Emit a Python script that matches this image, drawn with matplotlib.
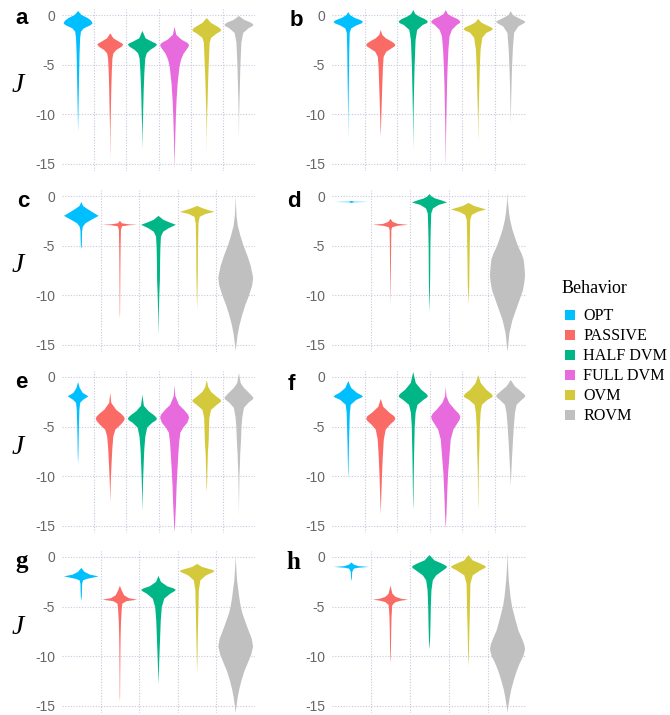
import numpy as np
import matplotlib
matplotlib.use("Agg")
import matplotlib.pyplot as plt
from matplotlib.patches import Rectangle

plt.rcParams["axes.unicode_minus"] = False

BEHAVIORS = ["OPT", "PASSIVE", "HALF DVM", "FULL DVM", "OVM", "ROVM"]
COLORS = ["#00BFFF", "#FA6B66", "#00B586", "#E76BDD", "#D4C93B", "#C0C0C0"]

SIX = ["OPT", "PASSIVE", "HALF DVM", "FULL DVM", "OVM", "ROVM"]
FIVE = ["OPT", "PASSIVE", "HALF DVM", "OVM", "ROVM"]

# Each violin: J levels (top to bottom) and relative half-width at each level
# ---- panel a
a_groups = SIX
a_span = [0.9, 0.8, 0.9, 0.9, 0.9, 0.9]
a_J = [
    [0.4, 0.0, -0.33, -0.55, -0.67, -0.84, -0.95, -1.07, -1.34, -1.68, -2.35, -4.0, -6.5, -8.5, -10.5, -11.8],
    [-1.85, -2.35, -2.7, -2.85, -2.95, -3.05, -3.2, -3.5, -3.85, -4.35, -5.7, -7.5, -9.5, -11.5, -14.5],
    [-1.6, -2.35, -2.7, -2.85, -2.95, -3.05, -3.2, -3.5, -3.85, -4.35, -5.7, -7.5, -9.5, -11.5, -13.5],
    [-1.2, -2.0, -2.5, -2.8, -3.0, -3.2, -3.5, -3.9, -4.5, -5.2, -6.9, -8.5, -10.2, -11.9, -13.6, -15.5],
    [-0.3, -0.8, -1.15, -1.35, -1.5, -1.65, -1.85, -2.3, -2.8, -5.2, -6.9, -8.5, -9.9, -12, -14],
    [-0.1, -0.5, -0.75, -0.9, -1.0, -1.12, -1.3, -1.8, -2.8, -5.2, -6.9, -8.5, -10.2, -12.5],
]
a_w = [
    [0, 0.24, 0.69, 0.88, 0.95, 1.0, 0.93, 0.8, 0.4, 0.2, 0.14, 0.1, 0.065, 0.04, 0.015, 0],
    [0, 0.25, 0.7, 0.9, 1.0, 0.97, 0.88, 0.5, 0.25, 0.17, 0.12, 0.08, 0.05, 0.02, 0],
    [0, 0.22, 0.68, 0.9, 1.0, 0.97, 0.88, 0.55, 0.3, 0.2, 0.14, 0.09, 0.055, 0.02, 0],
    [0, 0.12, 0.5, 0.88, 1.0, 0.96, 0.82, 0.62, 0.45, 0.34, 0.21, 0.14, 0.09, 0.055, 0.025, 0],
    [0, 0.3, 0.72, 0.92, 1.0, 0.95, 0.7, 0.3, 0.2, 0.13, 0.09, 0.06, 0.03, 0.008, 0],
    [0, 0.38, 0.8, 0.95, 1.0, 0.94, 0.7, 0.3, 0.17, 0.1, 0.07, 0.04, 0.015, 0],
]

# ---- panel b
b_groups = SIX
b_span = [0.9] * 6
b_J = [
    [0.3, 0.0, -0.3, -0.5, -0.62, -0.72, -0.85, -1.05, -1.35, -1.8, -3.5, -5.2, -7.9, -9.9, -12.5],
    [-1.5, -2.0, -2.35, -2.65, -2.85, -3.0, -3.15, -3.35, -3.7, -4.2, -5.2, -6.9, -8.5, -10.2, -12.3],
    [0.5, 0.1, -0.15, -0.4, -0.58, -0.7, -0.82, -1.0, -1.5, -2.5, -5.2, -7.9, -10.2, -13.5],
    [0.5, 0.1, -0.15, -0.4, -0.58, -0.7, -0.82, -1.0, -1.5, -2.15, -3.5, -5.2, -6.9, -8.5, -10.2, -12.5, -15.5],
    [-0.4, -0.75, -1.0, -1.25, -1.4, -1.55, -1.8, -2.3, -3.5, -5.2, -6.9, -8.5, -10.2, -12.8],
    [0.4, 0.0, -0.15, -0.45, -0.6, -0.7, -0.82, -1.15, -1.8, -3.5, -5.2, -6.9, -8.5, -11],
]
b_w = [
    [0, 0.12, 0.45, 0.82, 0.96, 1.0, 0.9, 0.55, 0.2, 0.1, 0.07, 0.055, 0.03, 0.012, 0],
    [0, 0.1, 0.35, 0.72, 0.92, 1.0, 0.95, 0.75, 0.38, 0.2, 0.15, 0.11, 0.075, 0.04, 0],
    [0, 0.14, 0.4, 0.78, 0.95, 1.0, 0.93, 0.65, 0.27, 0.16, 0.09, 0.05, 0.02, 0],
    [0, 0.14, 0.42, 0.8, 0.95, 1.0, 0.95, 0.76, 0.42, 0.26, 0.18, 0.13, 0.09, 0.07, 0.045, 0.02, 0],
    [0, 0.2, 0.52, 0.9, 1.0, 0.92, 0.55, 0.28, 0.16, 0.11, 0.08, 0.05, 0.02, 0],
    [0, 0.14, 0.32, 0.72, 0.93, 1.0, 0.92, 0.52, 0.23, 0.14, 0.09, 0.055, 0.03, 0],
]

# ---- panel c
c_groups = FIVE
c_span = [0.9] * 5
c_J = [
    [-0.6, -1.0, -1.25, -1.6, -2.0, -2.4, -2.75, -3.1, -3.5, -5.0, -5.3],
    [-2.5, -2.75, -2.85, -2.9, -2.95, -3.05, -3.4, -5.1, -6.8, -9.1, -11.8, -12.3],
    [-2.0, -2.4, -2.65, -2.9, -3.25, -3.6, -4.1, -5.1, -6.8, -8.5, -9.8, -11.8, -14],
    [-1.0, -1.25, -1.45, -1.6, -1.8, -2.1, -2.75, -5.1, -7.8, -9.8, -11.5],
    [0.0, -1, -2, -3, -4, -5, -6, -7, -8, -8.3, -9, -10, -11, -12, -13, -14, -15, -15.6],
]
c_w = [
    [0, 0.1, 0.3, 0.62, 1.0, 0.58, 0.24, 0.09, 0.05, 0.03, 0],
    [0, 0.12, 0.5, 1.0, 0.5, 0.12, 0.06, 0.04, 0.03, 0.02, 0.01, 0],
    [0, 0.28, 0.62, 1.0, 0.58, 0.27, 0.14, 0.11, 0.09, 0.08, 0.05, 0.02, 0],
    [0, 0.35, 0.7, 1.0, 0.5, 0.15, 0.08, 0.05, 0.04, 0.02, 0],
    [0, 0.02, 0.05, 0.12, 0.27, 0.45, 0.67, 0.86, 0.98, 1.0, 0.95, 0.77, 0.55, 0.37, 0.22, 0.11, 0.04, 0],
]

# ---- panel d
d_groups = FIVE
d_span = [0.9] * 5
d_J = [
    [-0.5, -0.57, -0.6, -0.63, -0.7],
    [-2.3, -2.6, -2.8, -2.9, -3.0, -3.15, -3.4, -5.1, -7.8, -9.5, -11],
    [0.2, -0.05, -0.25, -0.45, -0.65, -0.9, -1.25, -1.75, -3.4, -5.1, -7.8, -9.1, -10.5, -11.7],
    [-0.7, -1.0, -1.2, -1.35, -1.6, -1.9, -2.4, -5.1, -7.8, -9.1, -9.8, -11],
    [0.4, -0.5, -1.75, -2.5, -3.4, -4.2, -5.1, -5.8, -6.4, -7.2, -8.0, -8.7, -9.5, -10.3, -11.1, -12.5, -13.8, -15.2, -15.7],
]
d_w = [
    [0, 0.15, 1.0, 0.15, 0],
    [0, 0.12, 0.4, 1.0, 0.4, 0.1, 0.05, 0.035, 0.02, 0.01, 0],
    [0, 0.12, 0.33, 0.7, 1.0, 0.52, 0.2, 0.1, 0.07, 0.05, 0.04, 0.03, 0.015, 0],
    [0, 0.32, 0.7, 1.0, 0.52, 0.19, 0.1, 0.07, 0.05, 0.04, 0.02, 0],
    [0, 0.02, 0.09, 0.16, 0.28, 0.43, 0.61, 0.8, 0.92, 0.97, 1.0, 0.96, 0.88, 0.72, 0.56, 0.28, 0.11, 0.03, 0],
]

# ---- panel e
e_groups = SIX
e_span = [0.64, 0.9, 0.9, 0.9, 0.9, 0.9]
e_J = [
    [-0.5, -1.1, -1.6, -1.85, -1.95, -2.05, -2.3, -2.6, -3.3, -5.0, -6.6, -7.6, -8.8],
    [-1.6, -2.6, -3.3, -3.7, -4.0, -4.2, -4.4, -4.8, -5.3, -6.0, -7.3, -9.0, -10.6, -11.6, -12.7],
    [-1.8, -2.9, -3.45, -3.8, -4.05, -4.2, -4.35, -4.6, -5.1, -6.0, -7.3, -8.3, -10.0, -11.6, -13.5],
    [-0.8, -1.9, -2.8, -3.3, -3.8, -4.1, -4.6, -5.1, -5.6, -6.5, -7.8, -9.3, -11.0, -12.7, -14.0, -15.0, -15.6],
    [-0.3, -1.0, -1.5, -2.0, -2.25, -2.4, -2.55, -2.8, -3.3, -4.1, -5.0, -6.5, -7.6, -9.3, -11.0, -11.5],
    [0.4, -0.6, -1.1, -1.6, -1.95, -2.1, -2.25, -2.6, -3.1, -4.1, -5.0, -6.5, -7.8, -8.3, -10.0, -12.3, -14],
]
e_w = [
    [0, 0.16, 0.45, 0.85, 1.0, 0.85, 0.48, 0.2, 0.13, 0.08, 0.05, 0.035, 0],
    [0, 0.07, 0.41, 0.75, 0.95, 1.0, 0.95, 0.72, 0.35, 0.21, 0.14, 0.08, 0.035, 0.015, 0],
    [0, 0.1, 0.43, 0.76, 0.95, 1.0, 0.95, 0.68, 0.33, 0.2, 0.13, 0.1, 0.055, 0.025, 0],
    [0, 0.05, 0.3, 0.65, 0.94, 1.0, 0.88, 0.6, 0.4, 0.32, 0.26, 0.2, 0.14, 0.1, 0.06, 0.03, 0],
    [0, 0.1, 0.3, 0.7, 0.93, 1.0, 0.93, 0.7, 0.3, 0.18, 0.16, 0.13, 0.08, 0.045, 0.02, 0],
    [0, 0.12, 0.35, 0.7, 0.93, 1.0, 0.96, 0.65, 0.35, 0.23, 0.18, 0.14, 0.09, 0.08, 0.035, 0.012, 0],
]

# ---- panel f
f_groups = SIX
f_span = [0.9] * 6
f_J = [
    [-0.4, -1.1, -1.6, -1.85, -1.95, -2.05, -2.3, -2.8, -3.6, -5.0, -6.7, -8.35, -9.7, -10.2],
    [-2.2, -3.0, -3.6, -3.95, -4.2, -4.4, -4.8, -5.3, -6.3, -8.0, -9.7, -11.7, -13.1, -13.8],
    [0.5, -0.6, -1.28, -1.7, -1.9, -2.05, -2.3, -2.8, -3.6, -5.0, -7.0, -9.0, -10.7, -12.7, -13.3],
    [-1.0, -1.95, -2.6, -3.3, -3.7, -4.0, -4.3, -4.65, -5.3, -6.3, -8.0, -9.7, -11.7, -13.4, -14.6, -15.3],
    [0.2, -0.6, -1.28, -1.7, -1.9, -2.05, -2.3, -2.8, -3.6, -5.0, -7.0, -8.7, -10.4, -12.7, -13.3],
    [-0.3, -0.95, -1.45, -1.75, -1.9, -2.05, -2.3, -2.8, -3.6, -5.0, -6.7, -8.35, -9.7, -11],
]
f_w = [
    [0, 0.2, 0.6, 0.92, 1.0, 0.93, 0.55, 0.17, 0.11, 0.08, 0.05, 0.03, 0.012, 0],
    [0, 0.17, 0.6, 0.92, 1.0, 0.93, 0.63, 0.34, 0.21, 0.14, 0.09, 0.045, 0.015, 0],
    [0, 0.17, 0.55, 0.9, 1.0, 0.95, 0.7, 0.29, 0.16, 0.1, 0.07, 0.045, 0.03, 0.012, 0],
    [0, 0.05, 0.23, 0.63, 0.9, 1.0, 0.95, 0.8, 0.52, 0.34, 0.25, 0.16, 0.1, 0.06, 0.025, 0],
    [0, 0.17, 0.55, 0.9, 1.0, 0.94, 0.63, 0.25, 0.16, 0.11, 0.08, 0.045, 0.025, 0.01, 0],
    [0, 0.29, 0.7, 0.93, 1.0, 0.95, 0.75, 0.4, 0.29, 0.21, 0.14, 0.08, 0.035, 0],
]

# ---- panel g
g_groups = FIVE
g_span = [0.9] * 5
g_J = [
    [-1.1, -1.5, -1.78, -1.95, -2.2, -2.35, -2.7, -4.0, -4.4],
    [-2.9, -3.35, -3.85, -4.15, -4.3, -4.45, -4.7, -5.35, -6.7, -8.05, -9.4, -11.4, -14.1, -14.5],
    [-1.9, -2.5, -2.95, -3.15, -3.3, -3.45, -3.7, -4.2, -5.05, -6.4, -8.05, -10.1, -11.4, -12.8],
    [-0.7, -1.0, -1.2, -1.32, -1.42, -1.55, -1.85, -2.35, -3.35, -5.7, -8.05, -10.1, -11.7],
    [0.1, -1.0, -2.35, -4.0, -5.0, -5.7, -6.5, -7.4, -8.2, -9.0, -9.8, -10.7, -11.5, -12.4, -13.3, -14.1, -15.1, -15.7],
]
g_w = [
    [0, 0.19, 0.5, 1.0, 0.33, 0.1, 0.05, 0.03, 0],
    [0, 0.1, 0.24, 0.52, 1.0, 0.38, 0.14, 0.1, 0.06, 0.04, 0.03, 0.02, 0.01, 0],
    [0, 0.14, 0.5, 0.85, 1.0, 0.92, 0.67, 0.33, 0.19, 0.13, 0.095, 0.05, 0.025, 0],
    [0, 0.28, 0.68, 0.92, 1.0, 0.9, 0.51, 0.19, 0.1, 0.07, 0.04, 0.02, 0],
    [0, 0.03, 0.08, 0.2, 0.29, 0.39, 0.55, 0.74, 0.92, 1.0, 0.9, 0.69, 0.5, 0.34, 0.21, 0.12, 0.04, 0],
]

# ---- panel h
h_groups = FIVE
h_span = [0.9] * 5
h_J = [
    [-0.55, -0.77, -0.92, -1.0, -1.08, -1.17, -1.5, -2.2, -2.4],
    [-2.9, -3.7, -4.0, -4.2, -4.3, -4.4, -4.55, -4.85, -6.0, -7.4, -8.7, -10.1, -10.7],
    [0.2, -0.34, -0.67, -0.88, -1.0, -1.12, -1.34, -1.85, -2.35, -3.35, -5.0, -6.7, -8.05, -8.9, -9.3],
    [0.2, -0.34, -0.67, -0.88, -1.0, -1.12, -1.34, -1.85, -2.7, -4.0, -5.7, -7.4, -9.1, -10.4, -11],
    [0.5, -1.0, -2.35, -4.0, -5.0, -5.7, -6.5, -7.4, -8.2, -8.8, -9.3, -10.0, -10.7, -11.5, -12.4, -13.3, -14.1, -15.1, -15.7],
]
h_w = [
    [0, 0.14, 0.4, 1.0, 0.4, 0.14, 0.04, 0.02, 0],
    [0, 0.11, 0.28, 0.6, 1.0, 0.6, 0.28, 0.1, 0.06, 0.04, 0.03, 0.015, 0],
    [0, 0.28, 0.72, 0.94, 1.0, 0.95, 0.78, 0.38, 0.19, 0.11, 0.075, 0.057, 0.038, 0.015, 0],
    [0, 0.24, 0.68, 0.93, 1.0, 0.93, 0.68, 0.24, 0.11, 0.095, 0.075, 0.05, 0.03, 0.012, 0],
    [0, 0.03, 0.075, 0.17, 0.26, 0.36, 0.48, 0.62, 0.82, 0.95, 1.0, 0.9, 0.7, 0.52, 0.36, 0.22, 0.13, 0.04, 0],
]

Y_TICKS = [0, -5, -10, -15]

PANELS = [
    ("a", a_groups, a_J, a_w, a_span),
    ("b", b_groups, b_J, b_w, b_span),
    ("c", c_groups, c_J, c_w, c_span),
    ("d", d_groups, d_J, d_w, d_span),
    ("e", e_groups, e_J, e_w, e_span),
    ("f", f_groups, f_J, f_w, f_span),
    ("g", g_groups, g_J, g_w, g_span),
    ("h", h_groups, h_J, h_w, h_span),
]

# ---- layout (pixels)
W, H = 670, 715
fig = plt.figure(figsize=(W / 100, H / 100), dpi=100)
fig.patch.set_facecolor("white")

YLIM = (-15.7, 0.6)
PX_PER_UNIT = 9.93
ZERO_Y = [15, 196, 377, 557]
COL_X = [(62, 255), (332, 527)]
LETTER_POS = {"a": (15, 23.5), "b": (290, 26), "c": (17, 207), "d": (287, 207),
              "e": (15, 388.5), "f": (288, 390.5), "g": (15, 568), "h": (286, 569)}

GRID_KW = dict(color="#c8c8dc", linestyle=(0, (1, 1.5)), linewidth=0.8)

for idx, (letter, groups, Js, ws, spans) in enumerate(PANELS):
    row, col = divmod(idx, 2)
    x0, x1 = COL_X[col]
    top = ZERO_Y[row] - YLIM[1] * PX_PER_UNIT
    bottom = ZERO_Y[row] - YLIM[0] * PX_PER_UNIT
    ax = fig.add_axes([x0 / W, 1 - bottom / H, (x1 - x0) / W, (bottom - top) / H])

    n = len(groups)
    stats = []
    for J, w in zip(Js, ws):
        J = np.asarray(J, dtype=float)
        w = np.asarray(w, dtype=float)
        mode = J[np.argmax(w)]
        stats.append(dict(coords=J, vals=w, mean=mode, median=mode,
                          min=J.min(), max=J.max()))
    parts = ax.violin(stats, positions=np.arange(1, n + 1), widths=spans,
                      showmeans=False, showextrema=False, showmedians=False)
    for body, g in zip(parts["bodies"], groups):
        body.set_facecolor(COLORS[BEHAVIORS.index(g)])
        body.set_edgecolor("none")
        body.set_linewidth(0)
        body.set_alpha(1)

    ax.set_xlim(0.5, n + 0.5)
    ax.set_ylim(*YLIM)
    ax.set_xticks([])
    ax.set_xticks(np.arange(1.5, n), minor=True)
    ax.set_yticks(Y_TICKS)
    ax.grid(axis="y", which="major", **GRID_KW)
    ax.grid(axis="x", which="minor", **GRID_KW)
    ax.set_axisbelow(True)
    ax.tick_params(which="both", length=0, pad=5, labelsize=10,
                   labelcolor="#666666")
    for lbl in ax.get_yticklabels():
        lbl.set_fontfamily("Liberation Sans")
    for s in ax.spines.values():
        s.set_visible(False)

    if col == 0:
        ax.set_ylabel("J", rotation=0, fontsize=20, fontstyle="italic",
                      fontfamily="Liberation Serif", ha="center", va="center")
        ax.yaxis.set_label_coords((17.5 - x0) / (x1 - x0),
                                  1 - (ZERO_Y[row] + 70 - top) / (bottom - top))

    lx, ly = LETTER_POS[letter]
    if letter in ("g", "h"):
        fam, size = "Liberation Serif", 18
    else:
        fam, size = "Liberation Sans", 16
    fig.text(lx / W, 1 - ly / H, letter, fontsize=size, fontweight="bold",
             fontfamily=fam, ha="left", va="baseline")

# ---- legend
fig.text(561.5 / W, 1 - 293 / H, "Behavior", fontsize=13,
         fontfamily="Liberation Serif", ha="left", va="baseline")
for i, (name, color) in enumerate(zip(BEHAVIORS, COLORS)):
    base = 320 + 20 * i
    fig.add_artist(Rectangle((565 / W, 1 - base / H), 10 / W, 10 / H,
                             transform=fig.transFigure, facecolor=color,
                             edgecolor="none"))
    fig.text(583 / W, 1 - base / H, name, fontsize=11.6,
             fontfamily="Liberation Serif", ha="left", va="baseline")

fig.savefig("out.png", dpi=100, facecolor="white")
